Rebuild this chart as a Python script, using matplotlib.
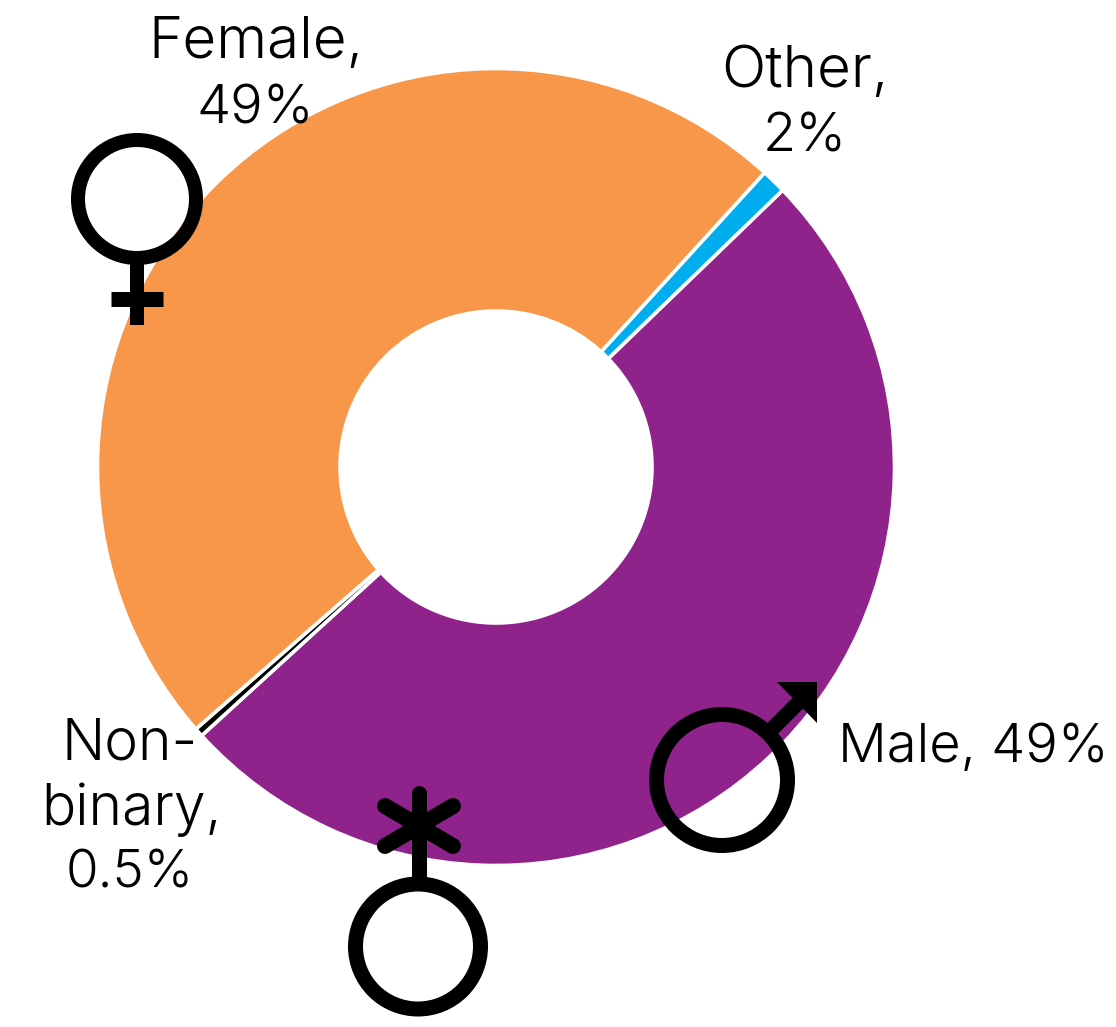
import matplotlib
matplotlib.use('Agg')
import matplotlib.pyplot as plt
from matplotlib.patches import Circle, Polygon

# shares as drawn in the picture, clockwise from Other/Male edge
categories = ['Male', 'Non-binary', 'Female', 'Other']
values = [50.45, 0.35, 48.2, 1.0]
colors = ['#8F228B', '#000000', '#F89749', '#00AEEF']

W, H = 1116, 1027

plt.rcParams['font.family'] = ['Inter', 'DejaVu Sans']


def py(y):
    # picture y (from top) to axes y
    return H - y


def sym_line(ax, xs, ys, lw=15, cap='butt'):
    ax.plot(xs, [py(y) for y in ys], color='black', lw=lw * 0.72,
            solid_capstyle=cap, zorder=5)


def ring(ax, x, y, r, lw=15):
    ax.add_patch(Circle((x, py(y)), r, fill=False, ec='black', lw=lw * 0.72, zorder=5))


fig = plt.figure(figsize=(W / 100, H / 100), dpi=100)
ax = fig.add_axes([0, 0, 1, 1])
ax.set_xlim(0, W)
ax.set_ylim(0, H)
ax.set_aspect('equal')
ax.axis('off')

ax.pie(values, colors=colors, startangle=44, counterclock=False, center=(496, py(467)),
       radius=398.5, wedgeprops={'width': 242.5, 'edgecolor': 'white', 'linewidth': 2.6},
       frame=False)
ax.set_xlim(0, W)
ax.set_ylim(0, H)

# labels, one text per line: x centre, baseline, size
label_lines = [
    ('Female,', 256, 58, 42), ('49%', 255, 123, 39),
    ('Other,', 805, 87, 42), ('2%', 805, 152, 39),
    ('Male, 49%', 973, 762, 39),
    ('Non-', 130, 760, 41), ('binary,', 132, 825, 41), ('0.5%', 130, 888, 38),
]
for txt, x, y, fs in label_lines:
    ax.text(x, py(y), txt, ha='center', va='baseline', fontsize=fs, fontweight=300)

# female symbol
ring(ax, 137, 199, 59, lw=14)
sym_line(ax, [137, 137], [262, 325], lw=14)
sym_line(ax, [111, 163], [298.5, 298.5])

# male symbol
ring(ax, 722, 780, 65.5)
sym_line(ax, [768, 800], [733, 701])
ax.add_patch(Polygon([(777, py(682)), (817, py(682)), (817, py(723))], color='black', zorder=5, lw=0))

# non-binary symbol
ring(ax, 418, 946.5, 62.5)
sym_line(ax, [418.5, 418.5], [876, 792.5], cap='round')
sym_line(ax, [385, 453], [806, 846], lw=16, cap='round')
sym_line(ax, [385, 453], [846, 806], lw=16, cap='round')

fig.savefig('out.png', dpi=100, facecolor='white')
